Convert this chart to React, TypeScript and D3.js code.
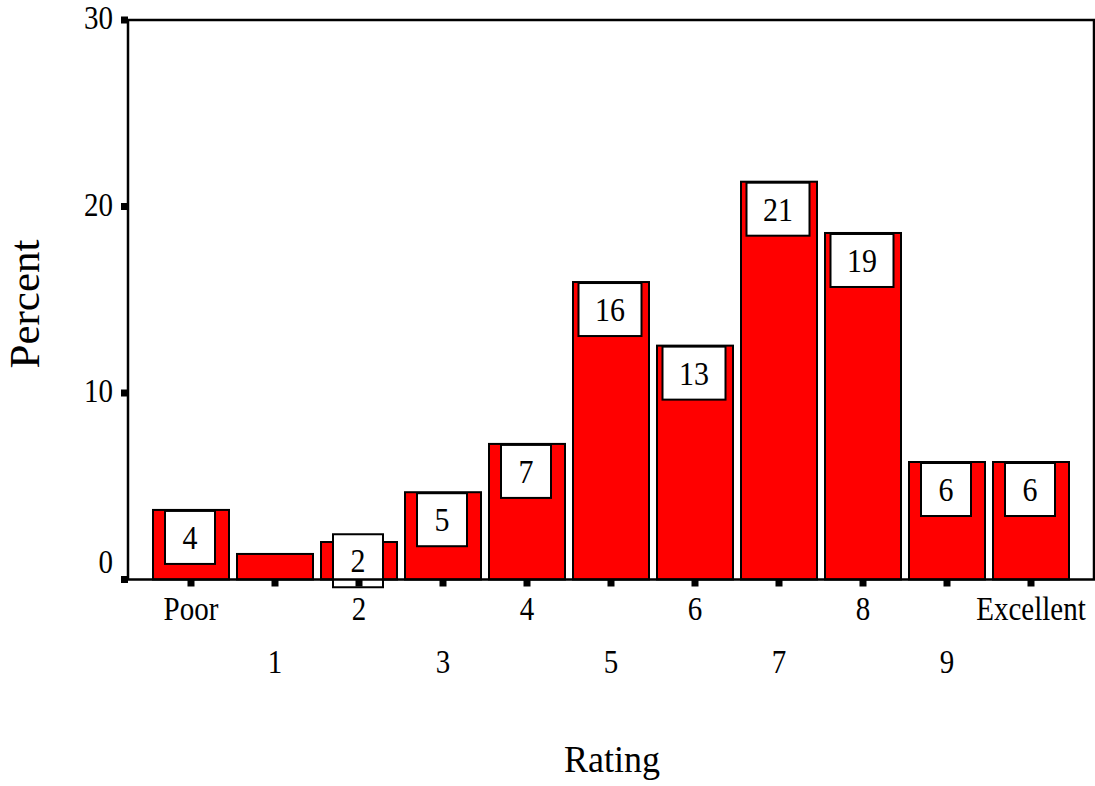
import * as d3 from 'd3';

// Chart data
const categories = ['Poor', '1', '2', '3', '4', '5', '6', '7', '8', '9', 'Excellent'];
const percents = [3.73, 1.37, 2.01, 4.68, 7.27, 15.95, 12.54, 21.33, 18.58, 6.3, 6.3];
const barLabels = ['4', '', '2', '5', '7', '16', '13', '21', '19', '6', '6'];
const yTicks = [0, 10, 20, 30];

const W = 1095;
const H = 786;
const left = 128;
const right = 1094;
const top = 20;
const bottom = 579.5;
const FONT = '"Liberation Serif", "Times New Roman", serif';

// text drawn slightly taller than wide, like the source
const Label = ({ x, y, size, anchor = 'middle', sy = 1.14, children }:
  { x: number; y: number; size: number; anchor?: string; sy?: number; children: any }) => (
  <text transform={`translate(${x},${y}) scale(1,${sy})`} textAnchor={anchor} fontSize={size} fill="#000">
    {children}
  </text>
);

export default function App() {
  const x = d3.scalePoint<string>().domain(categories).range([left, right]).padding(0.75);
  const y = d3.scaleLinear().domain([0, 30]).range([bottom, top]);
  const barW = 76;
  const boxH = 53;

  return (
    <div style={{ position: 'absolute', left: 0, top: 0 }}>
      <svg width={W} height={H} style={{ display: 'block', background: '#fff' }} fontFamily={FONT}>
        {/* bars */}
        {categories.map((c, i) => {
          const cx = x(c)!;
          const yTop = y(percents[i]);
          return (
            <rect key={c} x={cx - barW / 2} y={yTop} width={barW} height={bottom - yTop}
              fill="#ff0000" stroke="#000" strokeWidth={2} />
          );
        })}

        {/* value boxes */}
        {categories.map((c, i) => {
          const label = barLabels[i];
          if (!label) return null;
          const cx = x(c)! - 1;
          const yTop = y(percents[i]);
          const barH = bottom - yTop;
          const boxW = label.length > 1 ? 63 : 50;
          const boxTop = barH < boxH + 6 ? yTop + barH / 2 - boxH / 2 : yTop + 1;
          return (
            <g key={c}>
              <rect x={cx - boxW / 2} y={boxTop} width={boxW} height={boxH}
                fill="#fff" stroke="#000" strokeWidth={2} />
              <Label x={cx} y={boxTop + 38} size={30} sy={1.15}>{label}</Label>
            </g>
          );
        })}

        {/* frame */}
        <rect x={left} y={top} width={right - left} height={bottom - top}
          fill="none" stroke="#000" strokeWidth={2.5} />

        {/* y ticks */}
        {yTicks.map(t => (
          <g key={t}>
            <rect x={left - 7} y={y(t) - 3.5} width={7} height={7} fill="#000" />
            <Label x={113} y={y(t) + (t === 0 ? -7 : 9)} size={29} anchor="end">{t}</Label>
          </g>
        ))}

        {/* x ticks */}
        {categories.map((c, i) => (
          <g key={c}>
            <rect x={x(c)! - 3.5} y={bottom} width={7} height={7} fill="#000" />
            <Label x={x(c)!} y={i % 2 === 0 ? 620 : 673} size={29}>{c}</Label>
          </g>
        ))}

        {/* axis titles */}
        <Label x={612} y={772} size={36} sy={1.05}>Rating</Label>
        <text transform={`translate(39,304) rotate(-90)`} textAnchor="middle" fontSize={43} fill="#000">
          Percent
        </text>
      </svg>
    </div>
  );
}
